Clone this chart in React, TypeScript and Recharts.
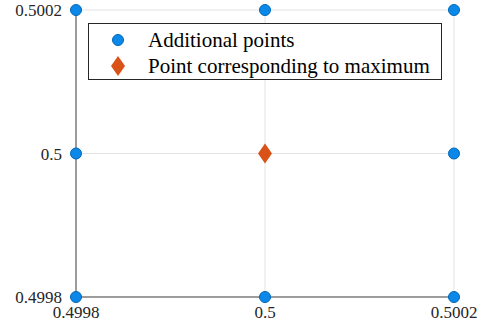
import { ScatterChart, Scatter, XAxis, YAxis, CartesianGrid } from "recharts";

const AXIS_TICKS = [0.4998, 0.5, 0.5002];
const extraX = [0.4998, 0.4998, 0.4998, 0.5, 0.5, 0.5002, 0.5002, 0.5002];
const extraY = [0.4998, 0.5, 0.5002, 0.4998, 0.5002, 0.4998, 0.5, 0.5002];
const maxX = [0.5];
const maxY = [0.5];
const LEGEND_LABELS = ["Additional points", "Point corresponding to maximum"];

const extraPoints = extraX.map((x, i) => ({ x, y: extraY[i] }));
const maxPoints = maxX.map((x, i) => ({ x, y: maxY[i] }));

const FONT = '"Liberation Serif", "Times New Roman", serif';
const BLUE = "#0b88e8";
const BLUE_EDGE = "#0068b8";
const ORANGE = "#d95319";

const Dot = (p: any) => (
  <circle cx={p.cx} cy={p.cy} r={5.5} fill={BLUE} stroke={BLUE_EDGE} strokeWidth={1} />
);

const Diamond = (p: any) => (
  <path
    d={`M${p.cx},${p.cy - 10} L${p.cx + 7},${p.cy} L${p.cx},${p.cy + 10} L${p.cx - 7},${p.cy} Z`}
    fill={ORANGE}
  />
);

const fmt = (v: number) => (v === 0.5 ? "0.5" : v.toFixed(4));

function LegendBox() {
  return (
    <svg width={354} height={57} style={{ position: "absolute", left: 88, top: 23 }}>
      <rect x={0.5} y={0.5} width={353} height={56} fill="#fff" stroke="#262626" strokeWidth={1} />
      <circle cx={30} cy={17} r={5.5} fill={BLUE} stroke={BLUE_EDGE} />
      <path d="M30,33 L37,43 L30,53 L23,43 Z" fill={ORANGE} />
      <text x={60} y={24} fontFamily={FONT} fontSize={21} fill="#000">
        {LEGEND_LABELS[0]}
      </text>
      <text x={60} y={50} fontFamily={FONT} fontSize={21} fill="#000">
        {LEGEND_LABELS[1]}
      </text>
    </svg>
  );
}

export default function App() {
  return (
    <div style={{ position: "absolute", left: 0, top: 0, width: 483, height: 334, background: "#fff" }}>
      <ScatterChart width={483} height={334} margin={{ top: 10, right: 29, bottom: 7, left: 16 }}>
        <CartesianGrid stroke="#e3e3e3" strokeWidth={1} />
        <XAxis
          type="number"
          dataKey="x"
          domain={[0.4998, 0.5002]}
          ticks={AXIS_TICKS}
          tickFormatter={fmt}
          tickLine={false}
          axisLine={{ stroke: "#7f7f7f", strokeWidth: 1.5 }}
          tick={{ fill: "#262626", fontFamily: FONT, fontSize: 17 }}
          tickMargin={3}
          height={30}
          interval={0}
        />
        <YAxis
          type="number"
          dataKey="y"
          domain={[0.4998, 0.5002]}
          ticks={AXIS_TICKS}
          tickFormatter={fmt}
          tickLine={false}
          axisLine={{ stroke: "#7f7f7f", strokeWidth: 1.5 }}
          tick={{ fill: "#262626", fontFamily: FONT, fontSize: 17 }}
          tickMargin={8}
          width={60}
          interval={0}
        />
        <Scatter data={extraPoints} shape={Dot} isAnimationActive={false} name={LEGEND_LABELS[0]} />
        <Scatter data={maxPoints} shape={Diamond} isAnimationActive={false} name={LEGEND_LABELS[1]} />
      </ScatterChart>
      <LegendBox />
    </div>
  );
}
